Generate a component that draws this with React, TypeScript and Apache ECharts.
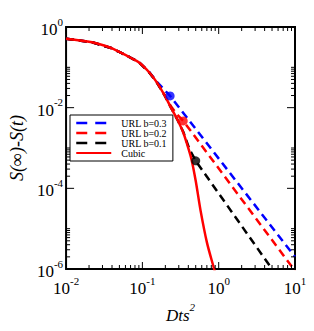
import React, { useEffect, useRef } from 'react';
import * as echarts from 'echarts';

// ---- data ----
const X_CUBIC = [0.01, 0.0219, 0.0389, 0.0513, 0.0682, 0.0908, 0.121, 0.153, 0.195, 0.234, 0.284, 0.344, 0.38, 0.437, 0.501, 0.579, 0.702, 0.871, 0.933];
const Y_CUBIC = [0.513, 0.417, 0.302, 0.234, 0.178, 0.132, 0.0776, 0.0437, 0.0204, 0.0105, 0.0053, 0.0024, 0.00135, 0.00055, 0.00015, 0.000028, 0.0000045, 0.000001, 0.0000006];

const X_B03 = [0.01, 0.0219, 0.0389, 0.0513, 0.0682, 0.0908, 0.121, 0.153, 0.204, 0.231, 10];
const Y_B03 = [0.513, 0.417, 0.302, 0.234, 0.178, 0.132, 0.079, 0.045, 0.025, 0.0195, 0.000002];

const X_B02 = [0.01, 0.0219, 0.0389, 0.0513, 0.0682, 0.0908, 0.121, 0.153, 0.195, 0.234, 0.284, 0.343, 10];
const Y_B02 = [0.513, 0.417, 0.302, 0.234, 0.178, 0.132, 0.0776, 0.0437, 0.0206, 0.0112, 0.0068, 0.0047, 0.0000009];

const X_B01 = [0.01, 0.0219, 0.0389, 0.0513, 0.0682, 0.0908, 0.121, 0.153, 0.195, 0.234, 0.284, 0.344, 0.415, 0.5, 5.0];
const Y_B01 = [0.513, 0.417, 0.302, 0.234, 0.178, 0.132, 0.0776, 0.0437, 0.0204, 0.0105, 0.0053, 0.0025, 0.00092, 0.00048, 0.000001];

const DOT_B03 = [0.231, 0.0195];
const DOT_B02 = [0.343, 0.0047];
const DOT_B01 = [0.5, 0.00048];

const SERIES_NAMES = ['URL b=0.3', 'URL b=0.2', 'URL b=0.1', 'Cubic'];

// tick scheme
const X_MAJOR_TICKS = [0.01, 0.1, 1, 10];
const X_MINOR_MULT = [2, 3, 4, 5, 6, 7, 8, 9];
const Y_MAJOR_TICKS = [1, 1e-2, 1e-4, 1e-6];
const Y_MINOR_BASES = [1e-2, 1e-4, 1e-6];
const Y_MINOR_MULT = [2, 3, 4, 5, 6, 7, 8, 9, 10];

const FONT = 'Liberation Serif';

const zip = (xs: number[], ys: number[]) => xs.map((x, i) => [x, ys[i]]);

export default function App() {
  const ref = useRef<HTMLDivElement>(null);
  useEffect(() => {
    if (!ref.current) return;
    const chart = echarts.init(ref.current, null, { renderer: 'svg' });

    const tickData: number[][] = [];
    X_MAJOR_TICKS.forEach((v) => tickData.push([v, 1, 0]));
    X_MAJOR_TICKS.slice(0, -1).forEach((b) => X_MINOR_MULT.forEach((m) => tickData.push([b * m, 1, 1])));
    Y_MAJOR_TICKS.forEach((v) => tickData.push([0.01, v, 2]));
    Y_MINOR_BASES.forEach((b) => Y_MINOR_MULT.forEach((m) => tickData.push([0.01, b * m, 3])));

    const labelRich = {
      b: { fontFamily: FONT, fontSize: 17, color: '#000', lineHeight: 22, verticalAlign: 'bottom' },
      s: { fontFamily: FONT, fontSize: 11, color: '#000', lineHeight: 11, verticalAlign: 'top' },
    };
    const fmt = (skipOdd: boolean) => (v: number) => {
      const e = Math.round(Math.log10(v));
      if (skipOdd && e % 2 !== 0) return '';
      return `{b|10}{s|${e}}`;
    };

    const dashed = (name: string, data: number[][], color: string) => ({
      name,
      type: 'line',
      data,
      symbol: 'none',
      z: 2,
      lineStyle: { color, width: 2.5, type: [8, 5] },
      itemStyle: { color },
    });
    const dot = (d: number[], color: string) => ({
      type: 'scatter',
      data: [d],
      symbolSize: 9,
      itemStyle: { color },
      z: 5,
      silent: true,
    });
    const legendDash = { type: [11, 8], width: 2.5 };

    chart.setOption({
      animation: false,
      grid: { left: 53, right: 19, top: 27, bottom: 62, show: true, borderColor: '#000', borderWidth: 2, backgroundColor: 'transparent' },
      legend: {
        data: [
          { name: SERIES_NAMES[0], lineStyle: legendDash },
          { name: SERIES_NAMES[1], lineStyle: legendDash },
          { name: SERIES_NAMES[2], lineStyle: legendDash },
          { name: SERIES_NAMES[3] },
        ],
        orient: 'vertical',
        left: 70,
        top: 115,
        padding: [3, 6, 3, 5],
        itemWidth: 35,
        itemHeight: 10.6,
        itemGap: 0,
        itemStyle: { opacity: 0, borderWidth: 0 },
        backgroundColor: '#fff',
        borderColor: '#000',
        borderWidth: 1,
        textStyle: { fontFamily: FONT, fontSize: 10, color: '#000', padding: [0, 0, 0, 5] },
      },
      xAxis: {
        type: 'log',
        logBase: 10,
        min: 0.01,
        max: 10,
        axisLine: { show: false },
        axisTick: { show: false },
        splitLine: { show: false },
        axisLabel: { formatter: fmt(false), rich: labelRich, margin: 6 },
        name: '{i|Dts}{s|2}',
        nameLocation: 'middle',
        nameGap: 27,
        nameTextStyle: {
          rich: {
            i: { fontFamily: FONT, fontSize: 17, fontStyle: 'italic', color: '#000', lineHeight: 22, verticalAlign: 'bottom' },
            s: { fontFamily: FONT, fontSize: 11, fontStyle: 'italic', color: '#000', lineHeight: 11, verticalAlign: 'top' },
          },
        },
      },
      yAxis: {
        type: 'log',
        logBase: 10,
        min: 1e-6,
        max: 1,
        axisLine: { show: false },
        axisTick: { show: false },
        splitLine: { show: false },
        axisLabel: { formatter: fmt(true), rich: labelRich, margin: 3 },
        name: 'S(∞)-S(t)',
        nameLocation: 'middle',
        nameGap: 39,
        nameTextStyle: { fontFamily: FONT, fontSize: 18, fontStyle: 'italic', color: '#000' },
      },
      series: [
        dashed(SERIES_NAMES[0], zip(X_B03, Y_B03), '#0000ff'),
        dashed(SERIES_NAMES[1], zip(X_B02, Y_B02), '#ff0000'),
        dashed(SERIES_NAMES[2], zip(X_B01, Y_B01), '#000000'),
        {
          name: SERIES_NAMES[3],
          type: 'line',
          data: zip(X_CUBIC, Y_CUBIC),
          symbol: 'none',
          smooth: 0.3,
          z: 3,
          lineStyle: { color: '#ff0000', width: 2.5 },
          itemStyle: { color: '#ff0000' },
        },
        dot(DOT_B03, '#0000ff'),
        dot(DOT_B02, '#ff0000'),
        dot(DOT_B01, '#000000'),
        {
          type: 'custom',
          silent: true,
          z: 6,
          data: tickData,
          renderItem: (params: any, api: any) => {
            const cs = params.coordSys;
            const kind = api.value(2);
            const left = cs.x, top = cs.y, right = cs.x + cs.width, bottom = cs.y + cs.height;
            const style = { stroke: '#000', lineWidth: 1 };
            if (kind < 2) {
              const px = api.coord([api.value(0), 1])[0];
              const len = kind === 0 ? 7 : 4;
              return {
                type: 'group',
                children: [
                  { type: 'line', shape: { x1: px, y1: bottom, x2: px, y2: bottom - len }, style },
                  { type: 'line', shape: { x1: px, y1: top, x2: px, y2: top + len }, style },
                ],
              };
            }
            const py = api.coord([0.01, api.value(1)])[1];
            const len = kind === 2 ? 8 : 4;
            return {
              type: 'group',
              children: [
                { type: 'line', shape: { x1: left, y1: py, x2: left + len, y2: py }, style },
                { type: 'line', shape: { x1: right, y1: py, x2: right - len, y2: py }, style },
              ],
            };
          },
        },
      ],
    });
    return () => chart.dispose();
  }, []);
  return <div ref={ref} style={{ position: 'fixed', left: 0, top: 0, width: 314, height: 331, background: '#fff' }} />;
}
